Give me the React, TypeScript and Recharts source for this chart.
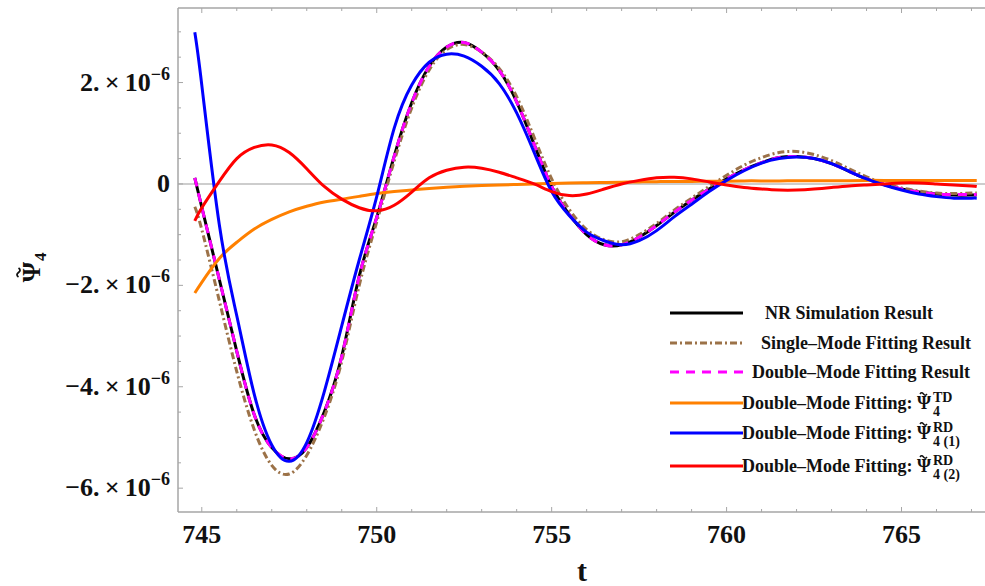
import { LineChart, Line, XAxis, YAxis, ReferenceLine, Legend } from 'recharts';

// time samples (t) and the six curves, in units of 1e-6
const tValues = [744.8, 745, 745.5, 746, 746.5, 747, 747.5, 748, 748.5, 749, 749.5, 750, 750.5, 751, 751.5, 752, 752.5, 753, 753.5, 754, 754.5, 755, 755.5, 756, 756.5, 757, 757.5, 758, 758.5, 759, 759.5, 760, 760.5, 761, 761.5, 762, 762.5, 763, 763.5, 764, 764.5, 765, 765.5, 766, 766.5, 767, 767.15];

const nrResult = [0.12, -0.46, -1.88, -3.3, -4.55, -5.2, -5.42, -5.2, -4.5, -3.4, -1.82, -0.66, 0.55, 1.6, 2.32, 2.7, 2.79, 2.6, 2.24, 1.62, 0.78, -0.05, -0.6, -1.0, -1.2, -1.2, -1.05, -0.82, -0.56, -0.32, -0.1, 0.1, 0.28, 0.42, 0.52, 0.54, 0.5, 0.4, 0.25, 0.1, -0.01, -0.1, -0.16, -0.2, -0.22, -0.22, -0.22];
const singleMode = [-0.45, -0.9, -2.3, -3.7, -4.85, -5.55, -5.72, -5.35, -4.6, -3.5, -2.0, -0.75, 0.45, 1.5, 2.25, 2.65, 2.75, 2.6, 2.28, 1.72, 0.92, 0.1, -0.5, -0.9, -1.1, -1.14, -1.0, -0.78, -0.52, -0.28, -0.05, 0.17, 0.37, 0.52, 0.62, 0.64, 0.58, 0.46, 0.3, 0.14, 0.01, -0.08, -0.14, -0.18, -0.19, -0.18, -0.18];
const doubleMode = [0.12, -0.46, -1.88, -3.3, -4.55, -5.2, -5.42, -5.2, -4.5, -3.4, -1.82, -0.66, 0.55, 1.6, 2.32, 2.7, 2.79, 2.6, 2.24, 1.62, 0.78, -0.05, -0.6, -1.0, -1.2, -1.2, -1.05, -0.82, -0.56, -0.32, -0.1, 0.1, 0.28, 0.42, 0.52, 0.54, 0.5, 0.4, 0.25, 0.1, -0.01, -0.1, -0.16, -0.2, -0.21, -0.21, -0.21];
const tdPart = [-2.15, -1.94, -1.47, -1.15, -0.89, -0.7, -0.55, -0.44, -0.355, -0.3, -0.245, -0.19, -0.15, -0.12, -0.09, -0.065, -0.045, -0.03, -0.02, -0.01, 0, 0.01, 0.02, 0.025, 0.03, 0.035, 0.04, 0.045, 0.05, 0.05, 0.055, 0.055, 0.06, 0.06, 0.06, 0.065, 0.065, 0.065, 0.065, 0.07, 0.07, 0.07, 0.07, 0.07, 0.07, 0.07, 0.07];
const rd1Part = [2.99, 1.95, -0.8, -2.6, -4.15, -5.15, -5.47, -5.1, -4.1, -2.8, -1.5, -0.25, 1.1, 1.95, 2.4, 2.56, 2.52, 2.32, 1.98, 1.4, 0.62, -0.15, -0.62, -0.95, -1.12, -1.2, -1.12, -0.92, -0.65, -0.4, -0.15, 0.07, 0.26, 0.41, 0.5, 0.53, 0.5, 0.4, 0.25, 0.1, -0.02, -0.12, -0.2, -0.25, -0.28, -0.28, -0.28];
const rd2Part = [-0.73, -0.47, 0.05, 0.5, 0.72, 0.77, 0.62, 0.3, -0.05, -0.3, -0.47, -0.53, -0.42, -0.16, 0.12, 0.27, 0.33, 0.31, 0.23, 0.12, 0.0, -0.15, -0.23, -0.2, -0.1, 0, 0.07, 0.12, 0.13, 0.1, 0.04, -0.02, -0.07, -0.1, -0.12, -0.12, -0.1, -0.07, -0.04, -0.02, 0, 0.02, 0.02, 0, -0.02, -0.04, -0.05];

const xTicks = [745, 746, 747, 748, 749, 750, 751, 752, 753, 754, 755, 756, 757, 758, 759, 760, 761, 762, 763, 764, 765, 766, 767];
const xLabels = [745, 750, 755, 760, 765];
const yTicks = [-6, -5.5, -5, -4.5, -4, -3.5, -3, -2.5, -2, -1.5, -1, -0.5, 0, 0.5, 1, 1.5, 2, 2.5, 3];
const yLabels = [-6, -4, -2, 0, 2];

const data = tValues.map((t, i) => ({
  t,
  nr: nrResult[i],
  single: singleMode[i],
  double: doubleMode[i],
  td: tdPart[i],
  rd1: rd1Part[i],
  rd2: rd2Part[i],
}));

const FONT = '"Liberation Serif", "Times New Roman", serif';
const FRAME = '#a6a6a6';
const BROWN = '#9c7248';

// small tilde drawn as a path, centred on (cx, cy)
const tilde = (cx: number, cy: number, w: number) =>
  `M ${cx - w} ${cy + 0.5} c ${w * 0.3} ${-w * 0.45} ${w * 0.65} ${-w * 0.45} ${w} 0 s ${w * 0.7} ${w * 0.45} ${w} 0`;

const XTick = ({ x, y, payload, down }: any) => {
  const major = xLabels.includes(payload.value);
  const len = major ? 5 : 3;
  return (
    <g>
      <line x1={x} x2={x} y1={y} y2={down ? y + len : y - len} stroke={FRAME} strokeWidth={1} />
      {major && !down && (
        <text x={x} y={y + 31} textAnchor="middle" fontFamily={FONT} fontWeight="bold" fontSize={26} fill="#111">
          {payload.value}
        </text>
      )}
    </g>
  );
};

const YTick = ({ x, y, payload }: any) => {
  const v = payload.value;
  const major = yLabels.includes(v);
  return (
    <g>
      <line x1={x} x2={x + (major ? 5 : 3)} y1={y} y2={y} stroke={FRAME} strokeWidth={1} />
      {major && (
        <text x={x - 8} y={y + 8} textAnchor="end" fontFamily={FONT} fontWeight="bold" fontSize={26} fill="#111">
          {v === 0 ? '0' : (
            <>
              {(v < 0 ? '\u2212' : '') + Math.abs(v) + '.\u2009\u00d7\u200910'}
              <tspan dy={-11} fontSize={18}>{'\u22126'}</tspan>
            </>
          )}
        </text>
      )}
    </g>
  );
};

const legendRows = [
  { label: 'NR Simulation Result', color: '#000000', dash: undefined, sup: '', sub: '' },
  { label: 'Single\u2013Mode Fitting Result', color: BROWN, dash: '7 3 2 3', sup: '', sub: '' },
  { label: 'Double\u2013Mode Fitting Result', color: '#ff00ff', dash: '9 7', sup: '', sub: '' },
  { label: 'Double\u2013Mode Fitting: \u03a8', color: '#ff8000', dash: undefined, sup: 'TD', sub: '4' },
  { label: 'Double\u2013Mode Fitting: \u03a8', color: '#0000ff', dash: undefined, sup: 'RD', sub: '4 (1)' },
  { label: 'Double\u2013Mode Fitting: \u03a8', color: '#ff0000', dash: undefined, sup: 'RD', sub: '4 (2)' },
];

const renderLegend = () => {
  const rowY = [23, 53, 82, 113, 143, 176];
  const textX = [125, 121, 112, 0, 0, 0];
  return (
    <svg width={345} height={200} style={{ display: 'block' }}>
      {legendRows.map((r, i) => (
        <g key={i} fontFamily={FONT} fontWeight="bold" fill="#111">
          <line x1={30} x2={103} y1={rowY[i]} y2={rowY[i]} stroke={r.color} strokeWidth={3} strokeDasharray={r.dash} />
          {r.sup ? (
            <>
              <text x={291} y={rowY[i] + 6} textAnchor="end" fontSize={18}>{r.label}</text>
              <path d={tilde(283.5, rowY[i] - 9.5, 3.5)} stroke="#111" strokeWidth={1.4} fill="none" />
              <text x={293} y={rowY[i] - 1} fontSize={14}>{r.sup}</text>
              <text x={293} y={rowY[i] + 13} fontSize={14}>{r.sub}</text>
            </>
          ) : (
            <text x={textX[i]} y={rowY[i] + 6} fontSize={18}>{r.label}</text>
          )}
        </g>
      ))}
    </svg>
  );
};

export default function App() {
  return (
    <div style={{ position: 'absolute', left: 0, top: 0, width: 985, height: 586, background: '#fff', overflow: 'hidden' }}>
      <LineChart width={985} height={586} data={data} margin={{ top: 0, right: 0, bottom: 34, left: 78 }}>
        <XAxis
          dataKey="t"
          type="number"
          domain={[744.32, 767.386]}
          allowDataOverflow
          ticks={xTicks}
          interval={0}
          height={40}
          tickSize={0}
          tickMargin={0}
          tickLine={false}
          axisLine={{ stroke: FRAME, strokeWidth: 1.5 }}
          tick={<XTick />}
          label={() => (
            <text x={582} y={581} textAnchor="middle" fontFamily={FONT} fontWeight="bold" fontSize={30} fill="#111">t</text>
          )}
        />
        <XAxis
          xAxisId="top"
          orientation="top"
          dataKey="t"
          type="number"
          domain={[744.32, 767.386]}
          allowDataOverflow
          ticks={xTicks}
          interval={0}
          height={8}
          tickSize={0}
          tickMargin={0}
          tickLine={false}
          axisLine={{ stroke: FRAME, strokeWidth: 1.5 }}
          tick={<XTick down />}
        />
        <YAxis
          type="number"
          domain={[-6.47, 3.47]}
          allowDataOverflow
          ticks={yTicks}
          interval={0}
          width={100}
          tickSize={0}
          tickMargin={0}
          tickLine={false}
          axisLine={{ stroke: FRAME, strokeWidth: 1.5 }}
          tick={<YTick />}
          label={() => (
            <g transform="translate(40,266) rotate(-90)" fontFamily={FONT} fontWeight="bold" fill="#111">
              <text x={4} y={0} textAnchor="end" fontSize={26}>{'\u03a8'}</text>
              <path d={tilde(-6.5, -22, 4.5)} stroke="#111" strokeWidth={1.8} fill="none" />
              <text x={5} y={6} fontSize={17}>4</text>
            </g>
          )}
        />
        <ReferenceLine y={0} stroke="#bdbdbd" strokeWidth={1.5} />
        <Line type="natural" dataKey="nr" stroke="#000000" strokeWidth={3} dot={false} isAnimationActive={false} />
        <Line type="natural" dataKey="single" stroke={BROWN} strokeWidth={3} strokeDasharray="7 3 2 3" dot={false} isAnimationActive={false} />
        <Line type="natural" dataKey="double" stroke="#ff00ff" strokeWidth={3} strokeDasharray="9 7" dot={false} isAnimationActive={false} />
        <Line type="natural" dataKey="td" stroke="#ff8000" strokeWidth={3} dot={false} isAnimationActive={false} />
        <Line type="natural" dataKey="rd1" stroke="#0000ff" strokeWidth={3} dot={false} isAnimationActive={false} />
        <Line type="natural" dataKey="rd2" stroke="#ff0000" strokeWidth={3} dot={false} isAnimationActive={false} />
        <Legend
          layout="horizontal"
          verticalAlign="middle"
          align="center"
          content={renderLegend}
          wrapperStyle={{ position: 'absolute', left: 640, top: 290, width: 345, height: 200 }}
        />
      </LineChart>
    </div>
  );
}
